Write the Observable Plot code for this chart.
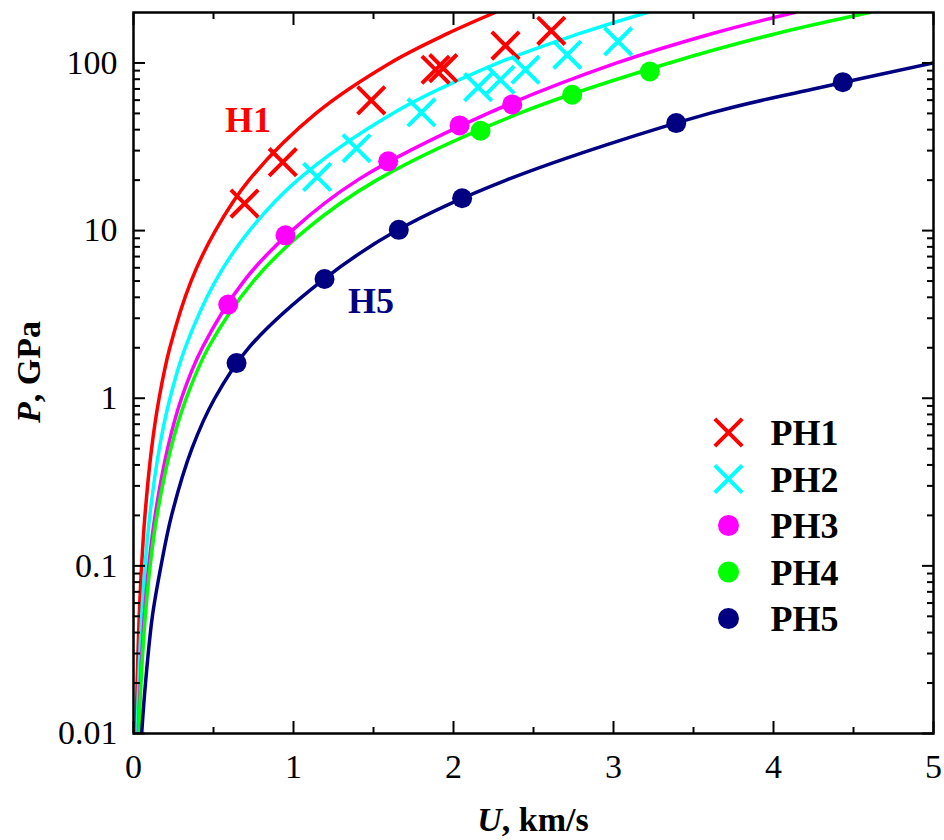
<!DOCTYPE html>
<html><head><meta charset="utf-8">
<script src="https://cdn.jsdelivr.net/npm/d3@7"></script>
<script src="https://cdn.jsdelivr.net/npm/@observablehq/plot@0.6"></script>
<style>
body{margin:0;background:#fff;}
#chart svg{display:block;}
#chart svg text{font-family:'Liberation Serif','Times New Roman',serif !important;}
</style></head><body><div id="chart"></div>
<script>
// ---- series ----
const seriesNames  = ["PH1","PH2","PH3","PH4","PH5"];
const curveNames   = ["H1","H2","H3","H4","H5"];
const seriesColors = ["#ff0000","#00ffff","#ff00ff","#00ff00","#000080"];
const seriesSymbol = ["times","times","circle","circle","circle"];

// ---- fitted Hugoniot curves ----
const curveP   = [0.01,0.02,0.05,0.1,0.2,0.5,1,2,5,10,20,50,100,150,200];
const h1U = [0.016,0.0226,0.0358,0.0506,0.0716,0.113,0.16,0.227,0.36,0.512,0.722,1.14,1.605,1.965,2.26];
const h2U = [0.0228,0.0323,0.051,0.0722,0.102,0.161,0.228,0.323,0.512,0.725,1.025,1.62,2.28,2.79,3.21];
const h3U = [0.0302,0.0426,0.0674,0.0953,0.135,0.213,0.30,0.43,0.69,0.99,1.40,2.215,3.02,3.62,4.13];
const h4U = [0.033,0.0466,0.0737,0.104,0.147,0.233,0.33,0.467,0.75,1.07,1.52,2.41,3.35,4.02,4.60];
const h5P = [0.01,0.02,0.05,0.1,0.2,0.5,1,2,5,10,20,50,70,100];
const h5U = [0.051,0.075,0.118,0.172,0.238,0.365,0.508,0.72,1.175,1.645,2.33,3.6,4.25,5.0];

// ---- measured points ----
const ph1U = [0.694,0.933,1.486,1.888,1.936,2.325,2.611];
const ph1P = [14.5,25.6,59.8,91.1,93.1,127,155.6];
const ph2U = [1.148,1.394,1.80,2.154,2.294,2.45,2.711,3.029];
const ph2P = [20.9,31.0,50.7,71.7,79.4,91.1,111.9,134.4];
const ph3U = [0.592,0.95,1.592,2.038,2.367];
const ph3P = [3.62,9.37,25.9,42.4,56.6];
const ph4U = [2.169,2.742,3.227];
const ph4P = [39.4,64.6,89.0];
const ph5U = [0.644,1.194,1.658,2.054,3.392,4.433];
const ph5P = [1.62,5.14,10.1,15.6,43.8,76.8];

// ---- ticks ----
const xMajor = [0,1,2,3,4,5];
const xMinor = [0.5,1.5,2.5,3.5,4.5];
const yMajor = [0.01,0.1,1,10,100];
const yMinor = [0.02,0.03,0.04,0.05,0.06,0.07,0.08,0.09,0.2,0.3,0.4,0.5,0.6,0.7,0.8,0.9,2,3,4,5,6,7,8,9,20,30,40,50,60,70,80,90];

// ---- annotations ----
const labelText  = ["H1","H5"];
const labelU     = [0.716,1.484];
const labelP     = [45.1,3.79];
const labelColor = ["#ff0000","#000080"];

// ---- build tables ----
const curveU = [h1U,h2U,h3U,h4U,h5U];
const curvePs = [curveP,curveP,curveP,curveP,h5P];
const curves = curveNames.map((n,i)=>curveU[i].map((u,j)=>({series:n,U:u,P:curvePs[i][j]})));
const pU = [ph1U,ph2U,ph3U,ph4U,ph5U];
const pP = [ph1P,ph2P,ph3P,ph4P,ph5P];
const points = seriesNames.map((n,i)=>pU[i].map((u,j)=>({series:n,U:u,P:pP[i][j]})));
const labels = labelText.map((t,i)=>({t,U:labelU[i],P:labelP[i],c:labelColor[i]}));

const FONT = "'Liberation Serif', 'Times New Roman', serif";
const marks = [];

curves.forEach((c,i)=>marks.push(Plot.line(c,{x:"U",y:"P",stroke:seriesColors[i],strokeWidth:3.5,curve:"catmull-rom",clip:true})));

points.forEach((p,i)=>{
  if (seriesSymbol[i]==="times")
    marks.push(Plot.dot(p,{x:"U",y:"P",symbol:"times",r:12.5,stroke:seriesColors[i],strokeWidth:4}));
  else
    marks.push(Plot.dot(p,{x:"U",y:"P",symbol:"circle",r:10,fill:seriesColors[i],stroke:null}));
});

marks.push(Plot.text(labels,{x:"U",y:"P",text:"t",fill:"c",fontSize:36,fontWeight:"bold",lineAnchor:"middle"}));

// legend inside plot
seriesNames.forEach((n,i)=>{
  const dy = 420 + i*46.5;
  if (seriesSymbol[i]==="times")
    marks.push(Plot.dot([n],{frameAnchor:"top-left",dx:595,dy,symbol:"times",r:12.5,stroke:seriesColors[i],strokeWidth:4}));
  else
    marks.push(Plot.dot([n],{frameAnchor:"top-left",dx:595,dy,symbol:"circle",r:10.5,fill:seriesColors[i],stroke:null}));
  marks.push(Plot.text([n],{frameAnchor:"top-left",dx:637,dy:dy+1,text:d=>d,textAnchor:"start",lineAnchor:"middle",fontSize:36,fontWeight:"bold",fill:"black"}));
});

// axes with inward ticks on all four sides
const tk = {label:null,strokeWidth:2,stroke:"black"};
marks.push(
  Plot.axisX(xMajor,{...tk,anchor:"bottom",tickSize:-12,tickPadding:32,fontSize:34,fill:"black",tickFormat:d=>String(d)}),
  Plot.axisX(xMinor,{...tk,anchor:"bottom",tickSize:-6,tickFormat:()=>""}),
  Plot.axisX(xMajor,{...tk,anchor:"top",tickSize:-12,tickFormat:()=>""}),
  Plot.axisX(xMinor,{...tk,anchor:"top",tickSize:-6,tickFormat:()=>""}),
  Plot.axisY(yMajor,{...tk,anchor:"left",tickSize:-12,tickPadding:28,fontSize:34,fill:"black",tickFormat:d=>String(d)}),
  Plot.axisY(yMinor,{...tk,anchor:"left",tickSize:-7,tickFormat:()=>""}),
  Plot.axisY(yMajor,{...tk,anchor:"right",tickSize:-12,tickFormat:()=>""}),
  Plot.axisY(yMinor,{...tk,anchor:"right",tickSize:-7,tickFormat:()=>""}),
  Plot.frame({stroke:"black",strokeWidth:2.5})
);

const chart = Plot.plot({
  width:944, height:840,
  marginLeft:133, marginRight:11, marginTop:12, marginBottom:107,
  style:{fontFamily:FONT,color:"black",background:"white"},
  x:{domain:[0,5]},
  y:{type:"log",domain:[0.01,200]},
  marks
});
document.getElementById("chart").appendChild(chart);

// axis titles with mixed italic/bold
const svg = d3.select(chart);
const xt = svg.append("text").attr("x",533).attr("y",831).attr("text-anchor","middle")
  .attr("font-size",34).attr("font-weight","bold").attr("fill","black");
xt.append("tspan").attr("font-style","italic").text("U");
xt.append("tspan").text(", km/s");
const yt = svg.append("text").attr("transform","translate(40,372) rotate(-90)").attr("text-anchor","middle")
  .attr("font-size",34).attr("font-weight","bold").attr("fill","black");
yt.append("tspan").attr("font-style","italic").text("P");
yt.append("tspan").text(", GPa");
</script>
</body></html>
